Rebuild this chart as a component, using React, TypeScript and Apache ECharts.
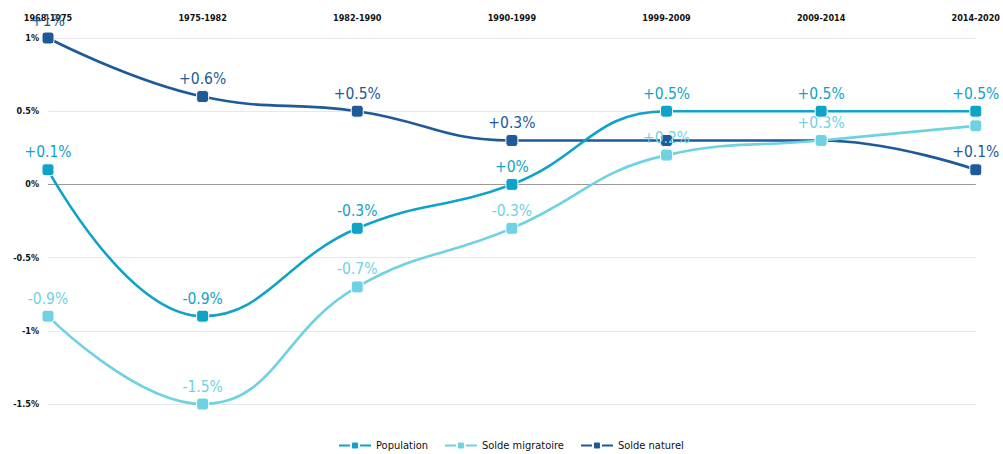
import React, { useEffect, useRef } from "react";
import * as echarts from "echarts";

const periods = ["1968-1975", "1975-1982", "1982-1990", "1990-1999", "1999-2009", "2009-2014", "2014-2020"];
const population = [0.1, -0.9, -0.3, 0, 0.5, 0.5, 0.5];
const soldeMigratoire = [-0.9, -1.5, -0.7, -0.3, 0.2, 0.3, 0.4];
const soldeNaturel = [1, 0.6, 0.5, 0.3, 0.3, 0.3, 0.1];
const hiddenMigratoire = [6];
const hiddenNaturel = [4, 5];
const yTicks = [-1.5, -1, -0.5, 0, 0.5, 1];

const FONT = "'DejaVu Sans Condensed', 'DejaVu Sans', sans-serif";
const LABEL_FONT = "'Liberation Sans Narrow', 'DejaVu Sans Condensed', sans-serif";

const fmt = (v: number) => (v >= 0 ? "+" : "") + String(v) + "%";

function makeSeries(name: string, values: number[], color: string, hidden: number[], z: number) {
  return {
    name,
    type: "line",
    smooth: 0.45,
    z,
    symbol: "roundRect",
    symbolSize: 12,
    lineStyle: { width: 2.6, color },
    itemStyle: { color, borderColor: "#ffffff", borderWidth: 1 },
    label: {
      show: true,
      position: "top",
      distance: 3,
      color,
      fontFamily: LABEL_FONT,
      fontSize: 15.5,
      formatter: (p: any) => fmt(p.value),
    },
    data: values.map((v, i) => (hidden.includes(i) ? { value: v, label: { show: false } } : v)),
  };
}

export default function App() {
  const ref = useRef<HTMLDivElement>(null);
  useEffect(() => {
    if (!ref.current) return;
    const chart = echarts.init(ref.current, undefined, { renderer: "svg" });
    const popSeries: any = makeSeries("Population", population, "#10a3c8", [], 4);
    popSeries.markLine = {
      silent: true,
      symbol: "none",
      label: { show: false },
      lineStyle: { color: "#9a9a9a", type: "solid", width: 1 },
      data: [{ yAxis: 0 }],
      z: 1,
    };
    chart.setOption({
      animation: false,
      backgroundColor: "#ffffff",
      grid: { left: 48, right: 27, top: 38, bottom: 50 },
      legend: {
        top: 439,
        left: 338,
        padding: 0,
        itemWidth: 32,
        itemHeight: 10,
        itemGap: 16,
        textStyle: { fontFamily: FONT, fontSize: 11, color: "#111", lineHeight: 13 },
        data: ["Population", "Solde migratoire", "Solde naturel"],
      },
      xAxis: {
        type: "category",
        position: "top",
        boundaryGap: false,
        data: periods,
        axisLine: { show: false },
        axisTick: { show: false },
        axisLabel: {
          margin: 16,
          fontFamily: FONT,
          fontSize: 9,
          fontWeight: "bold",
          color: "#111",
          interval: 0,
        },
      },
      yAxis: {
        type: "value",
        min: -1.5,
        max: 1,
        interval: 0.5,
        axisLine: { show: false },
        axisTick: { show: false },
        splitLine: { lineStyle: { color: "#e8e8ec", width: 1 } },
        axisLabel: {
          margin: 9,
          fontFamily: FONT,
          fontSize: 9,
          fontWeight: "bold",
          color: "#111",
          formatter: (v: number) => (yTicks.includes(v) ? String(v) + "%" : ""),
        },
      },
      series: [
        popSeries,
        makeSeries("Solde migratoire", soldeMigratoire, "#6fd2e3", hiddenMigratoire, 3),
        makeSeries("Solde naturel", soldeNaturel, "#1d5a97", hiddenNaturel, 2),
      ],
    });
    return () => chart.dispose();
  }, []);
  return <div ref={ref} style={{ width: 1003, height: 454, position: "absolute", left: 0, top: 0 }} />;
}
